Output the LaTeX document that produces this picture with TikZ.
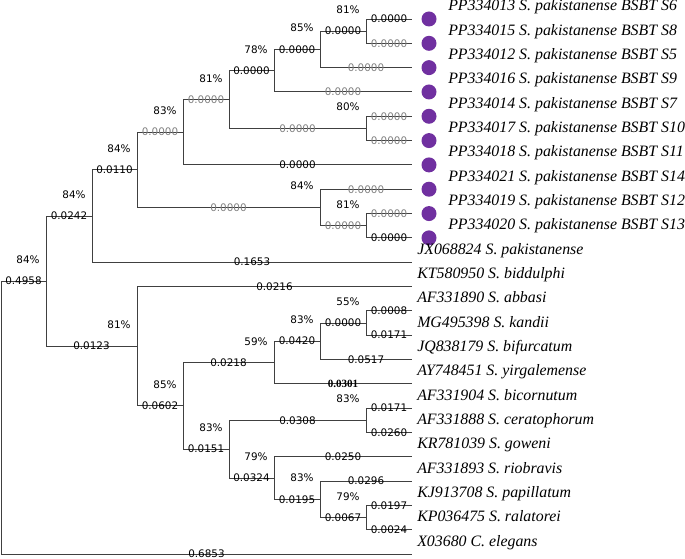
\documentclass[tikz,border=0pt]{standalone}
\usepackage{fontspec}
\setmainfont{Liberation Serif}
\newfontfamily\brfont{DejaVu Sans}
\usepackage{tikz}
\definecolor{dotpurple}{HTML}{7030A0}
\definecolor{brgray}{HTML}{808080}
\definecolor{linegray}{HTML}{404040}

\begin{document}
\begin{tikzpicture}[x=0.75pt,y=-0.75pt,
	br/.style={draw=linegray,line width=0.7pt},
	blen/.style={pos=0.75,inner sep=0pt,font=\brfont\fontsize{7.8}{9}\selectfont},
	blgray/.style={blen,text=brgray},
	blbold/.style={blen,font=\bfseries\fontsize{8.3}{9}\selectfont},
	boot/.style={inner sep=0pt,font=\brfont\fontsize{7.8}{9}\selectfont},
	taxon/.style={anchor=base west,inner sep=0pt,font=\itshape\fontsize{11.9}{13}\selectfont},
	sdot/.style={circle,fill=dotpurple,inner sep=0pt,minimum size=11.25pt}]
		\useasboundingbox (0,0) rectangle (685,559);
		%
		% tips
		\foreach \i in {0,...,22}
			\coordinate (t\i) at (412,{19+24.32*\i});
		%
		% inner nodes of the tree
		\coordinate (root) at (1,417.6);
		\coordinate (A) at (46,281.1);
		\coordinate (B) at (92,216.0);
		\coordinate (C) at (137,169.9);
		\coordinate (F) at (183,132.2);
		\coordinate (G) at (229,99.6);
		\coordinate (I) at (274,70.7);
		\coordinate (J) at (320,49.4);
		\coordinate (K) at (366,31.2);
		\coordinate (H) at (366,128.4);
		\coordinate (D) at (320,207.5);
		\coordinate (E) at (366,225.7);
		\coordinate (L) at (137,346.2);
		\coordinate (M) at (183,405.8);
		\coordinate (N) at (274,362.5);
		\coordinate (O) at (320,341.2);
		\coordinate (P) at (366,323.0);
		\coordinate (Q) at (229,449.2);
		\coordinate (R) at (366,420.3);
		\coordinate (S) at (274,478.0);
		\coordinate (T) at (320,499.3);
		\coordinate (U) at (366,517.6);
		%
		% branches
		\draw[br] (K) |- node[blen]{0.0000} (t0);
		\draw[br] (K) |- node[blgray]{0.0000} (t1);
		\draw[br] (J) |- node[blen]{0.0000} (K);
		\draw[br] (J) |- node[blgray]{0.0000} (t2);
		\draw[br] (I) |- node[blen]{0.0000} (J);
		\draw[br] (I) |- node[blgray]{0.0000} (t3);
		\draw[br] (H) |- node[blgray]{0.0000} (t4);
		\draw[br] (H) |- node[blgray]{0.0000} (t5);
		\draw[br] (G) |- node[blen]{0.0000} (I);
		\draw[br] (G) |- node[blgray]{0.0000} (H);
		\draw[br] (F) |- node[blgray]{0.0000} (G);
		\draw[br] (F) |- node[blen]{0.0000} (t6);
		\draw[br] (E) |- node[blgray]{0.0000} (t8);
		\draw[br] (E) |- node[blen]{0.0000} (t9);
		\draw[br] (D) |- node[blgray]{0.0000} (t7);
		\draw[br] (D) |- node[blgray]{0.0000} (E);
		\draw[br] (C) |- node[blgray]{0.0000} (F);
		\draw[br] (C) |- node[blgray]{0.0000} (D);
		\draw[br] (B) |- node[blen]{0.0110} (C);
		\draw[br] (B) |- node[blen]{0.1653} (t10);
		\draw[br] (A) |- node[blen]{0.0242} (B);
		\draw[br] (A) |- node[blen]{0.0123} (L);
		\draw[br] (root) |- node[blen]{0.4958} (A);
		\draw[br] (root) |- node[blen]{0.6853} (t22);
		\draw[br] (L) |- node[blen]{0.0216} (t11);
		\draw[br] (L) |- node[blen]{0.0602} (M);
		\draw[br] (M) |- node[blen]{0.0218} (N);
		\draw[br] (M) |- node[blen]{0.0151} (Q);
		\draw[br] (N) |- node[blen]{0.0420} (O);
		\draw[br] (N) |- node[blbold]{0.0301} (t15);
		\draw[br] (O) |- node[blen]{0.0000} (P);
		\draw[br] (O) |- node[blen]{0.0517} (t14);
		\draw[br] (P) |- node[blen]{0.0008} (t12);
		\draw[br] (P) |- node[blen]{0.0171} (t13);
		\draw[br] (Q) |- node[blen]{0.0308} (R);
		\draw[br] (Q) |- node[blen]{0.0324} (S);
		\draw[br] (R) |- node[blen]{0.0171} (t16);
		\draw[br] (R) |- node[blen]{0.0260} (t17);
		\draw[br] (S) |- node[blen]{0.0250} (t18);
		\draw[br] (S) |- node[blen]{0.0195} (T);
		\draw[br] (T) |- node[blen]{0.0296} (t19);
		\draw[br] (T) |- node[blen]{0.0067} (U);
		\draw[br] (U) |- node[blen]{0.0197} (t20);
		\draw[br] (U) |- node[blen]{0.0024} (t21);
		%
		% bootstrap values
		\node[boot] (bA) at (28,260) {84\%};
		\node[boot] (bB) at (74,195) {84\%};
		\node[boot] (bC) at (119,149) {84\%};
		\node[boot] (bF) at (165,111) {83\%};
		\node[boot] (bG) at (211,79) {81\%};
		\node[boot] (bI) at (256,50) {78\%};
		\node[boot] (bJ) at (302,28) {85\%};
		\node[boot] (bK) at (348,10) {81\%};
		\node[boot] (bH) at (348,107) {80\%};
		\node[boot] (bD) at (302,186) {84\%};
		\node[boot] (bE) at (348,205) {81\%};
		\node[boot] (bL) at (119,325) {81\%};
		\node[boot] (bM) at (165,385) {85\%};
		\node[boot] (bN) at (256,341.5) {59\%};
		\node[boot] (bO) at (302,320) {83\%};
		\node[boot] (bP) at (348,302) {55\%};
		\node[boot] (bQ) at (211,428) {83\%};
		\node[boot] (bR) at (348,399) {83\%};
		\node[boot] (bS) at (256,457) {79\%};
		\node[boot] (bT) at (302,478) {83\%};
		\node[boot] (bU) at (348,497) {79\%};
		%
		% isolates of this study
		\foreach \i in {0,...,9}
			\node[sdot] (d\i) at (429,{19+24.32*\i}) {};
		\foreach \i/\txt in {0/PP334013 S. pakistanense BSBT S6,
				1/PP334015 S. pakistanense BSBT S8,
				2/PP334012 S. pakistanense BSBT S5,
				3/PP334016 S. pakistanense BSBT S9,
				4/PP334014 S. pakistanense BSBT S7,
				5/PP334017 S. pakistanense BSBT S10,
				6/PP334018 S. pakistanense BSBT S11,
				7/PP334021 S. pakistanense BSBT S14,
				8/PP334019 S. pakistanense BSBT S12,
				9/PP334020 S. pakistanense BSBT S13}
			\node[taxon] (l\i) at (448,{19+24.32*\i-8}) {\txt};
		\foreach \i/\txt in {10/JX068824 S. pakistanense,
				11/KT580950 S. biddulphi,
				12/AF331890 S. abbasi,
				13/MG495398 S. kandii,
				14/JQ838179 S. bifurcatum,
				15/AY748451 S. yirgalemense,
				16/AF331904 S. bicornutum,
				17/AF331888 S. ceratophorum,
				18/KR781039 S. goweni,
				19/AF331893 S. riobravis,
				20/KJ913708 S. papillatum,
				21/KP036475 S. ralatorei,
				22/X03680 C. elegans}
			\node[taxon] (l\i) at (417,{19+24.32*\i-8}) {\txt};
		\end{tikzpicture}
\end{document}
